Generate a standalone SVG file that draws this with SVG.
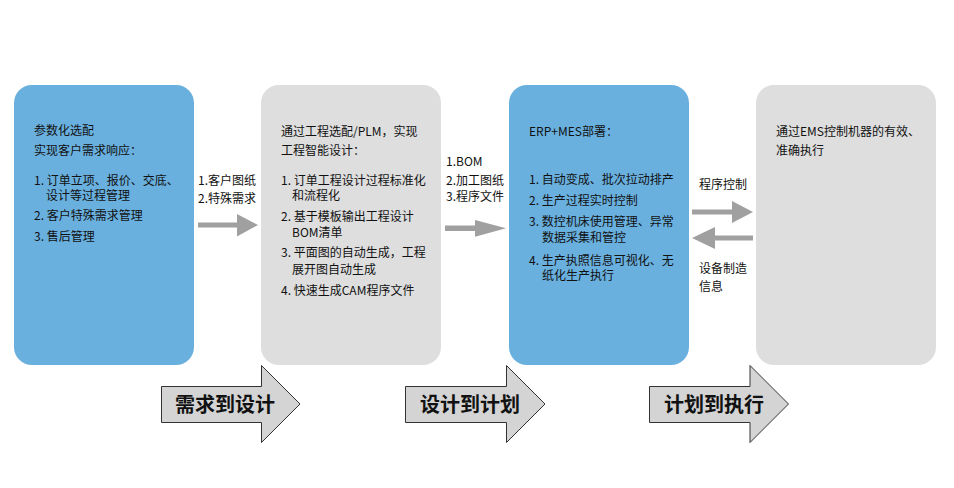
<svg xmlns="http://www.w3.org/2000/svg" width="954" height="488" viewBox="0 0 954 488">
<style>
text{font-family:"Microsoft YaHei","Noto Sans CJK SC","Noto Sans",sans-serif;font-size:12px;fill:#111}
.blue{fill:#69B0DF}
.gray{fill:#DEDEDE}
.conn{fill:#A0A0A0}
.big{fill:#D4D4D4;stroke:#333;stroke-width:1}
.bt{font-size:20px;font-weight:bold;text-anchor:middle}
</style>
<rect width="954" height="488" fill="#fff"/>
<g id="node1">
<rect class="blue" x="14" y="85" width="180" height="280" rx="18"/>
<text x="34" y="135">参数化选配</text>
<text x="34" y="154.5">实现客户需求响应：</text>
<text x="34" y="184.5">1. 订单立项、报价、交底、</text>
<text x="46" y="200">设计等过程管理</text>
<text x="34" y="220">2. 客户特殊需求管理</text>
<text x="34" y="240.5">3. 售后管理</text>
</g>
<g id="node2">
<rect class="gray" x="261" y="85" width="180" height="280" rx="18"/>
<text x="281" y="136">通过工程选配/PLM，实现</text>
<text x="281" y="154.5">工程智能设计：</text>
<text x="281" y="184.5">1. 订单工程设计过程标准化</text>
<text x="292" y="200">和流程化</text>
<text x="281" y="221">2. 基于模板输出工程设计</text>
<text x="292" y="236.5">BOM清单</text>
<text x="281" y="257">3. 平面图的自动生成，工程</text>
<text x="292" y="273.5">展开图自动生成</text>
<text x="281" y="295">4. 快速生成CAM程序文件</text>
</g>
<g id="node3">
<rect class="blue" x="509" y="85" width="180" height="280" rx="18"/>
<text x="529" y="136">ERP+MES部署：</text>
<text x="529" y="184">1. 自动变成、批次拉动排产</text>
<text x="529" y="204.5">2. 生产过程实时控制</text>
<text x="529" y="226">3. 数控机床使用管理、异常</text>
<text x="542" y="242">数据采集和管控</text>
<text x="529" y="264.5">4. 生产执照信息可视化、无</text>
<text x="542" y="280">纸化生产执行</text>
</g>
<g id="node4">
<rect class="gray" x="756" y="85" width="180" height="280" rx="18"/>
<text x="776" y="136">通过EMS控制机器的有效、</text>
<text x="776" y="154.5">准确执行</text>
</g>
<g id="connectors">
<polygon class="conn" points="198,222.5 237,222.5 237,214 258,225 237,236.5 237,227.5 198,227.5"/>
<text x="198" y="184.5">1.客户图纸</text>
<text x="198" y="203">2.特殊需求</text>
<polygon class="conn" points="445,225.5 475,225.5 475,220 506,228.3 475,236.7 475,231 445,231"/>
<text x="446" y="166">1.BOM</text>
<text x="446" y="184.5">2.加工图纸</text>
<text x="446" y="201">3.程序文件</text>
<polygon class="conn" points="692,209.5 732,209.5 732,201 753,212 732,223 732,214.5 692,214.5"/>
<polygon class="conn" points="753,235.5 715,235.5 715,227 692,238 715,249 715,240.5 753,240.5"/>
<text x="699" y="188.5">程序控制</text>
<text x="699" y="273">设备制造</text>
<text x="699" y="291">信息</text>
</g>
<g id="phase1">
<polygon class="big" points="161.5,386.5 261.5,386.5 261.5,365.5 300,404 261.5,442.5 261.5,422.5 161.5,422.5"/>
<text class="bt" x="225" y="412">需求到设计</text>
</g>
<g id="phase2">
<polygon class="big" points="405.5,386.5 506.5,386.5 506.5,365.5 545,404 506.5,442.5 506.5,422.5 405.5,422.5"/>
<text class="bt" x="470" y="412">设计到计划</text>
</g>
<g id="phase3">
<polygon class="big" points="649.5,386.5 750,386.5 750,365.5 788.5,404 750,442.5 750,422.5 649.5,422.5"/>
<text class="bt" x="714" y="412">计划到执行</text>
</g>
</svg>
